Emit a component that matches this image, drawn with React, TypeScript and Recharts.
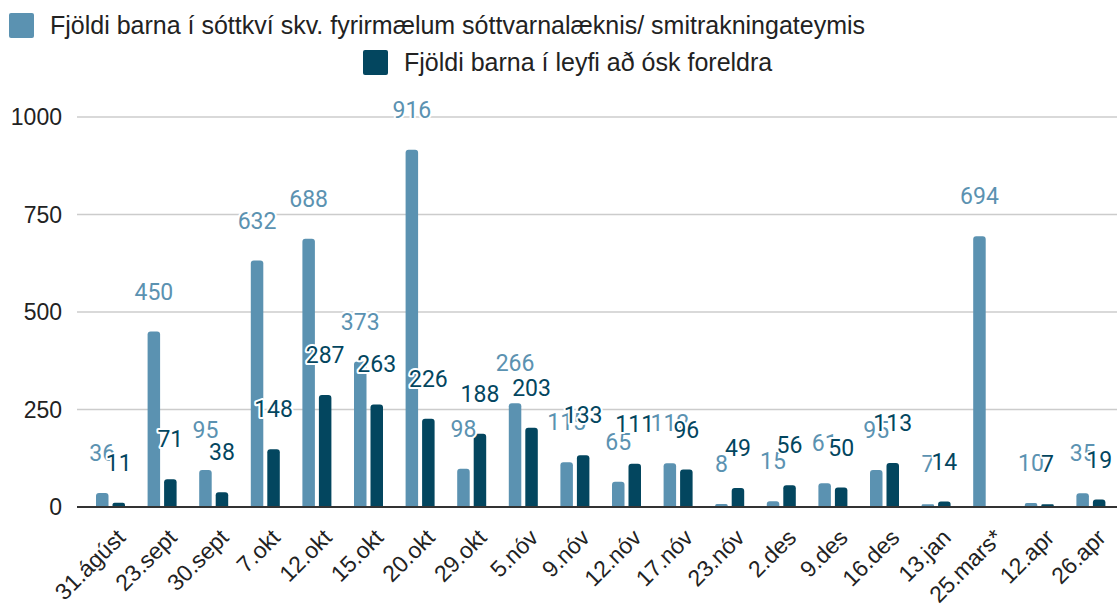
import { Bar, BarChart, CartesianGrid, LabelList, XAxis, YAxis } from "recharts";

const CATEGORIES = [
  "31.ágúst", "23.sept", "30.sept", "7.okt", "12.okt", "15.okt", "20.okt", "29.okt",
  "5.nóv", "9.nóv", "12.nóv", "17.nóv", "23.nóv", "2.des", "9.des", "16.des",
  "13.jan", "25.mars*", "12.apr", "26.apr",
];
const SOTTKVI = [36, 450, 95, 632, 688, 373, 916, 98, 266, 115, 65, 112, 8, 15, 61, 95, 7, 694, 10, 35];
const LEYFI = [11, 71, 38, 148, 287, 263, 226, 188, 203, 133, 111, 96, 49, 56, 50, 113, 14, 0, 7, 19];
const Y_TICKS = [0, 250, 500, 750, 1000];

const SERIES_NAMES = [
  "Fjöldi barna í sóttkví skv. fyrirmælum sóttvarnalæknis/ smitrakningateymis",
  "Fjöldi barna í leyfi að ósk foreldra",
];

const LIGHT = "#5b92b1";
const DARK = "#03465f";
const SANS = "'Liberation Sans', Arial, sans-serif";

const data = CATEGORIES.map((c, i) => ({ cat: c, sottkvi: SOTTKVI[i], leyfi: LEYFI[i] }));

// value label above each bar, white halo like the original export
const makeLabel = (color: string) => (props: any) => {
  const { x, y, width, value } = props;
  return (
    <text
      x={Number(x) + Number(width) / 2}
      y={Number(y) - 32}
      textAnchor="middle"
      fill={color}
      stroke="#fff"
      strokeWidth={4}
      strokeLinejoin="round"
      style={{ paintOrder: "stroke", fontFamily: "Roboto, sans-serif", fontSize: 23 }}
    >
      {value}
    </text>
  );
};

const DateTick = (props: any) => {
  const { x, y, payload } = props;
  const ax = x + 16;
  const ay = y + 32;
  return (
    <text
      x={ax}
      y={ay}
      transform={`rotate(-45, ${ax}, ${ay})`}
      textAnchor="end"
      fill="#222"
      style={{ fontFamily: SANS, fontSize: 23 }}
    >
      {payload.value}
    </text>
  );
};

function LegendRow({ color, text, left, top }: { color: string; text: string; left: number; top: number }) {
  return (
    <div style={{ position: "absolute", left, top, display: "flex", alignItems: "center", whiteSpace: "nowrap" }}>
      <div style={{ width: 25, height: 25, borderRadius: 2, background: color, marginRight: 16 }} />
      <span style={{ fontFamily: SANS, fontSize: 25, color: "#222" }}>{text}</span>
    </div>
  );
}

export default function App() {
  return (
    <div style={{ position: "absolute", left: 0, top: 0, width: 1117, height: 605, background: "#fff" }}>
      <LegendRow color={LIGHT} text={SERIES_NAMES[0]} left={9} top={11} />
      <LegendRow color={DARK} text={SERIES_NAMES[1]} left={363} top={48} />
      <BarChart
        width={1117}
        height={605}
        data={data}
        margin={{ top: 117, right: 0, bottom: 0, left: 0 }}
        barSize={12.5}
        barGap={4}
      >
        <CartesianGrid vertical={false} stroke="#cccccc" strokeWidth={1.5} />
        <XAxis
          dataKey="cat"
          interval={0}
          tickLine={false}
          tickSize={0}
          tickMargin={0}
          axisLine={{ stroke: "#333", strokeWidth: 2 }}
          padding={{ left: 8, right: 0 }}
          height={98}
          tick={<DateTick />}
        />
        <YAxis
          domain={[0, 1000]}
          ticks={Y_TICKS}
          width={77}
          axisLine={false}
          tickLine={false}
          tickSize={0}
          tickMargin={15}
          tick={{ fill: "#222", fontSize: 23, fontFamily: SANS }}
        />
        <Bar dataKey="sottkvi" name={SERIES_NAMES[0]} fill={LIGHT} radius={[3, 3, 0, 0]} isAnimationActive={false}>
          <LabelList dataKey="sottkvi" content={makeLabel(LIGHT)} />
        </Bar>
        <Bar dataKey="leyfi" name={SERIES_NAMES[1]} fill={DARK} radius={[3, 3, 0, 0]} isAnimationActive={false}>
          <LabelList dataKey="leyfi" content={makeLabel(DARK)} />
        </Bar>
      </BarChart>
    </div>
  );
}
